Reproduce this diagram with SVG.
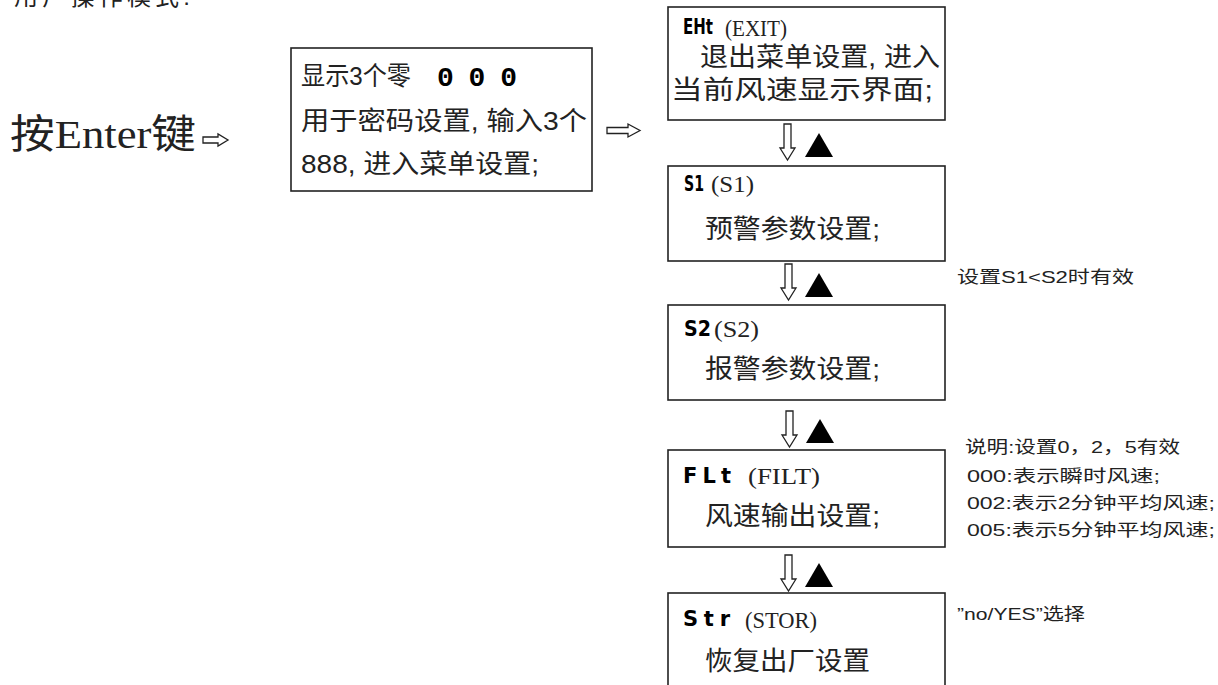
<svg xmlns="http://www.w3.org/2000/svg" width="1218" height="685" viewBox="0 0 1218 685">
<style>
.box{fill:#fff;stroke:#222;stroke-width:1.6}
.t{font-family:"Liberation Sans","Noto Sans CJK SC",sans-serif;font-size:26px;fill:#222}
.seg{font-family:"DejaVu Sans","Noto Sans",sans-serif;font-weight:bold;font-size:21px;fill:#000}
.ser{font-family:"Liberation Serif","Noto Sans CJK SC",serif;font-size:24px;fill:#222}
.note{font-family:"Liberation Sans","Noto Sans CJK SC",sans-serif;font-size:17px;fill:#222}
.hollow{fill:#fff;stroke:#222;stroke-width:1.3}
.solid{fill:#000}
</style>
<defs>
<polygon id="darr" points="4,0 11,0 11,24 15,24 7.5,36 0,24 4,24"/>
<polygon id="tri" points="14,0 28,24 0,24"/>
</defs>
<text x="14" y="5" class="t" style="font-size:24px" textLength="176" lengthAdjust="spacing">用户操作模式:</text>
<g id="start">
<text x="10" y="148" class="ser" style="font-size:40px" textLength="186" lengthAdjust="spacingAndGlyphs">按Enter键</text>
</g>
<g id="connectors">
<polygon class="hollow" points="203,137 218,137 218,134 228,140 218,146 218,143 203,143"/>
<polygon class="hollow" points="607,127.5 628,127.5 628,124 640,130.5 628,137 628,133.5 607,133.5"/>
<use href="#darr" class="hollow" x="780" y="124"/>
<use href="#tri" class="solid" x="805" y="133"/>
<use href="#darr" class="hollow" x="781" y="264"/>
<use href="#tri" class="solid" x="805" y="273"/>
<use href="#darr" class="hollow" x="782" y="411"/>
<use href="#tri" class="solid" x="806" y="419"/>
<use href="#darr" class="hollow" x="781" y="555"/>
<use href="#tri" class="solid" x="805" y="563"/>
</g>
<g id="password">
<rect class="box" x="291" y="48" width="301" height="143"/>
<text x="301" y="85" class="t" textLength="110" lengthAdjust="spacingAndGlyphs">显示3个零</text>
<text x="437" y="86" class="seg" style="font-size:28px;font-family:'Liberation Mono',monospace" textLength="80" lengthAdjust="spacing">000</text>
<text x="301" y="130" class="t" textLength="286" lengthAdjust="spacingAndGlyphs">用于密码设置, 输入3个</text>
<text x="301" y="173" class="t" textLength="238" lengthAdjust="spacingAndGlyphs">888, 进入菜单设置;</text>
</g>
<g id="exit">
<rect class="box" x="668" y="7" width="277" height="113"/>
<text x="683" y="34" class="seg" textLength="30" lengthAdjust="spacingAndGlyphs">EHt</text>
<text x="725" y="36" class="ser" textLength="62" lengthAdjust="spacingAndGlyphs">(EXIT)</text>
<text x="700" y="66" class="t" textLength="240" lengthAdjust="spacingAndGlyphs">退出菜单设置, 进入</text>
<text x="671" y="99" class="t" textLength="262" lengthAdjust="spacingAndGlyphs">当前风速显示界面;</text>
</g>
<g id="s1">
<rect class="box" x="668" y="166" width="277" height="95"/>
<text x="684" y="191" class="seg" textLength="20" lengthAdjust="spacingAndGlyphs">S1</text>
<text x="711" y="192" class="ser" textLength="43" lengthAdjust="spacingAndGlyphs">(S1)</text>
<text x="705" y="238" class="t" textLength="175" lengthAdjust="spacingAndGlyphs">预警参数设置;</text>
</g>
<g id="s1note">
<text x="957" y="283" class="note" textLength="177" lengthAdjust="spacingAndGlyphs">设置S1&lt;S2时有效</text>
</g>
<g id="s2">
<rect class="box" x="668" y="305" width="277" height="95"/>
<text x="684" y="336" class="seg" textLength="27" lengthAdjust="spacingAndGlyphs">S2</text>
<text x="714" y="337" class="ser" textLength="45" lengthAdjust="spacingAndGlyphs">(S2)</text>
<text x="705" y="378" class="t" textLength="175" lengthAdjust="spacingAndGlyphs">报警参数设置;</text>
</g>
<g id="filt">
<rect class="box" x="668" y="450" width="277" height="97"/>
<text x="683" y="483" class="seg" textLength="48" lengthAdjust="spacing">FLt</text>
<text x="748" y="484" class="ser" textLength="72" lengthAdjust="spacingAndGlyphs">(FILT)</text>
<text x="705" y="525" class="t" textLength="175" lengthAdjust="spacingAndGlyphs">风速输出设置;</text>
</g>
<g id="filtnote">
<text x="965" y="453" class="note" textLength="215" lengthAdjust="spacingAndGlyphs">说明:设置0，2，5有效</text>
<text x="967" y="482" class="note" textLength="193" lengthAdjust="spacingAndGlyphs">000:表示瞬时风速;</text>
<text x="967" y="509" class="note" textLength="248" lengthAdjust="spacingAndGlyphs">002:表示2分钟平均风速;</text>
<text x="967" y="536" class="note" textLength="248" lengthAdjust="spacingAndGlyphs">005:表示5分钟平均风速;</text>
</g>
<g id="stor">
<rect class="box" x="668" y="593" width="277" height="100"/>
<text x="683" y="626" class="seg" textLength="47" lengthAdjust="spacing">Str</text>
<text x="745" y="628" class="ser" textLength="72" lengthAdjust="spacingAndGlyphs">(STOR)</text>
<text x="705" y="670" class="t" textLength="165" lengthAdjust="spacingAndGlyphs">恢复出厂设置</text>
</g>
<g id="stornote">
<text x="957" y="620" class="note" textLength="128" lengthAdjust="spacingAndGlyphs">”no/YES”选择</text>
</g>
</svg>
